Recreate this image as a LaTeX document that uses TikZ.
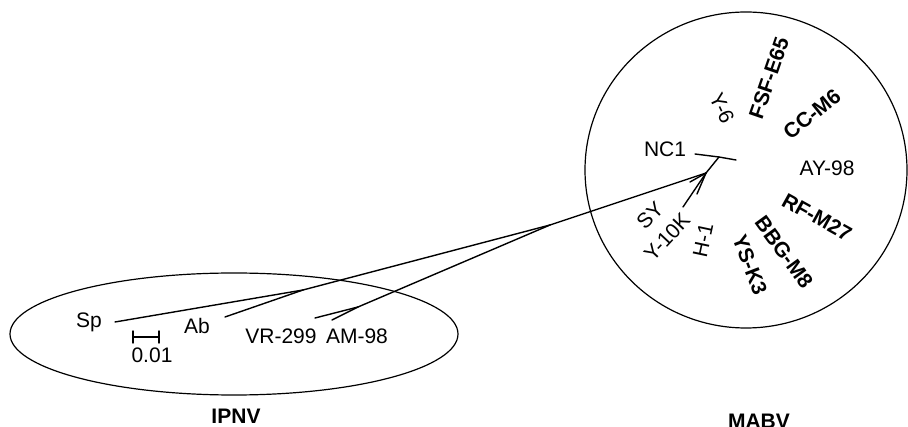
\documentclass[tikz,border=0pt]{standalone}
\usepackage{fontspec}
\setmainfont{Liberation Sans}
\begin{document}
\begin{tikzpicture}[x=1pt,y=-1pt,
  lbl/.style={font=\fontsize{21}{25}\selectfont, inner sep=0pt, anchor=center},
  blbl/.style={lbl, font=\fontsize{21}{25}\selectfont\bfseries},
  br/.style={line width=1.4pt, line cap=round},
  ring/.style={line width=1.2pt}]
\useasboundingbox (0,0) rectangle (908,427);
% groups
\draw[ring] (746,170) ellipse [x radius=161, y radius=158];
\draw[ring] (234,334) ellipse [x radius=224, y radius=61];
\node[blbl] (ipnv) at (236,416) {IPNV};
\node[blbl] (mabv) at (759,421) {MABV};
% IPNV labels
\node[lbl] (sp) at (89,322) {Sp};
\node[lbl] (ab) at (197,326) {Ab};
\node[lbl] (vr) at (281,336) {VR-299};
\node[lbl] (am) at (357,336) {AM-98};
\node[lbl] (scl) at (152,355) {0.01};
% MABV labels
\node[lbl, rotate=-65] (y6) at (722,108) {Y-6};
\node[blbl, rotate=71] (fsf) at (769,78) {FSF-E65};
\node[blbl, rotate=39] (cc) at (812,114) {CC-M6};
\node[lbl] (ay) at (827,168) {AY-98};
\node[blbl, rotate=-29] (rf) at (817,217) {RF-M27};
\node[blbl, rotate=-54] (bbg) at (784,252) {BBG-M8};
\node[blbl, rotate=-69] (ys) at (750,265) {YS-K3};
\node[lbl, rotate=78] (h1) at (703,240) {H-1};
\node[lbl, rotate=47] (y10) at (667,237) {Y-10K};
\node[lbl, rotate=45] (sy) at (650,215) {SY};
\node[lbl] (nc1) at (665,149) {NC1};
% tree coordinates
\coordinate (tsp) at (115,322);
\coordinate (tab) at (225,317);
\coordinate (tvr) at (315,318);
\coordinate (tam) at (332,320);
\coordinate (j1) at (303,290);
\coordinate (j2) at (358,307);
\coordinate (j3) at (550,225);
\coordinate (tip) at (706,173);
\coordinate (k) at (719,157);
\coordinate (tnc) at (695,154);
\coordinate (tay) at (736,160);
\coordinate (tyk) at (683,207);
\coordinate (th1) at (697,194);
\coordinate (tsy) at (690,182);
\coordinate (sb1) at (133,337);
\coordinate (sb2) at (159,337);
% branches
\draw[br] (tsp) -- (j1);
\draw[br] (tab) -- (j1);
\draw[br] (tvr) -- (j2);
\draw[br] (tam) -- (j2);
\draw[br] (j1) -- (j3);
\draw[br] (j2) -- (j3);
\draw[br] (j3) -- (tip);
\draw[br] (tip) -- (k);
\draw[br] (tnc) -- (k) -- (tay);
\draw[br] (tip) -- (tyk);
\draw[br] (tip) -- (th1);
\draw[br] (tip) -- (tsy);
% scale bar
\draw[br] (sb1) -- (sb2);
\draw[br] ([yshift=-6pt]sb1) -- ([yshift=6pt]sb1);
\draw[br] ([yshift=-6pt]sb2) -- ([yshift=6pt]sb2);
\end{tikzpicture}
\end{document}
